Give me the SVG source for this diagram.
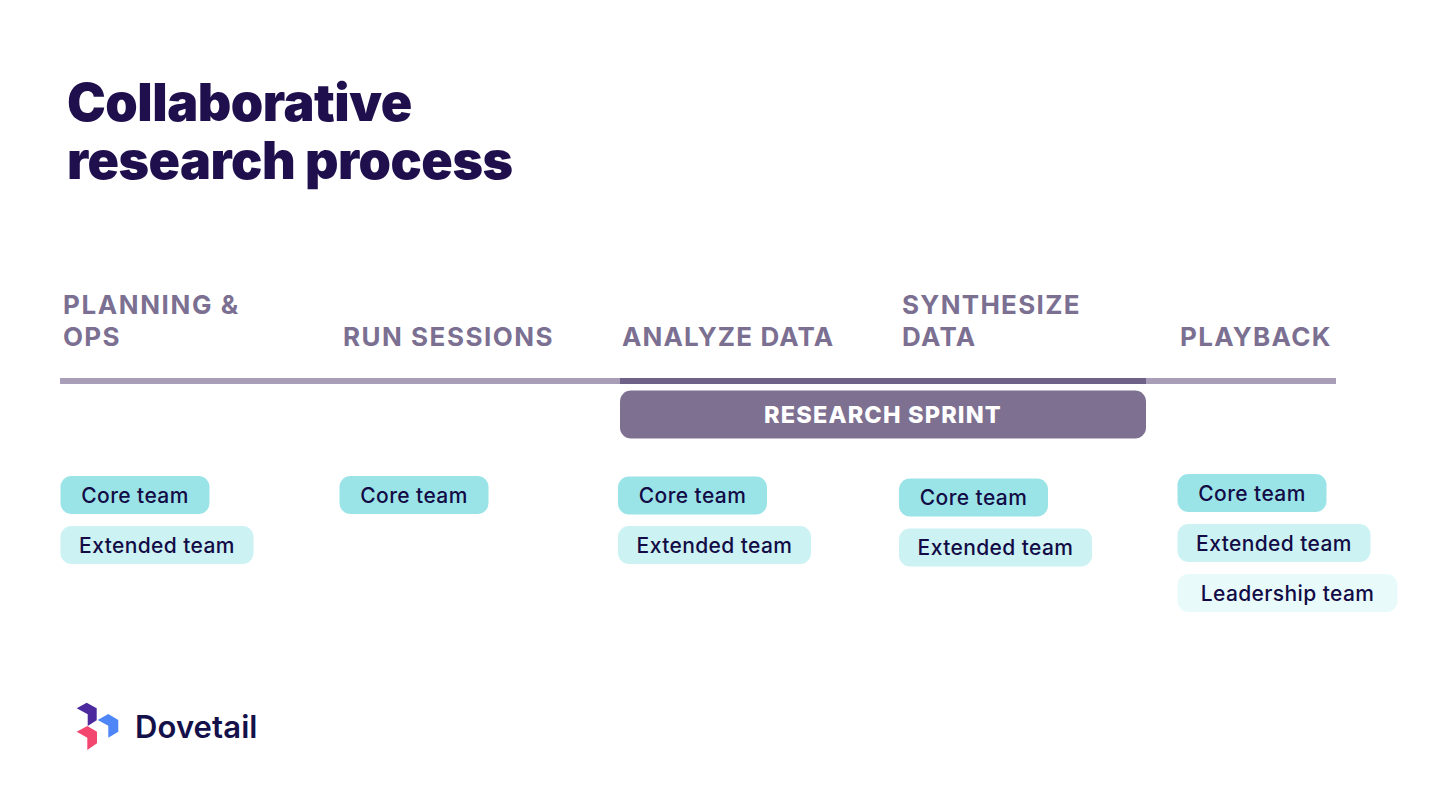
<svg xmlns="http://www.w3.org/2000/svg" width="1440" height="811" viewBox="0 0 1440 811">
<style>
text{font-family:Inter,"Liberation Sans",sans-serif}
.title{font-size:52px;font-weight:900;fill:#1f0f4d;letter-spacing:-.5px}
.head{font-size:26px;font-weight:700;fill:#7b6f92;letter-spacing:1.3px}
.pill{font-size:21px;font-weight:500;fill:#120b45;text-anchor:middle;letter-spacing:.4px}
.core{fill:#9ae4e8}.ext{fill:#ccf2f3}.lead{fill:#e9fafb}
</style>
<rect width="1440" height="811" fill="#fff"/>
<g id="title"><text class="title" x="67" y="121">Collaborative</text><text class="title" x="67" y="179">research process</text></g>
<g id="connectors">
<rect x="60" y="378" width="1276" height="6" fill="#a99eb8"/>
<rect x="620" y="378" width="526" height="6" fill="#6f6288"/>
</g>
<g id="stage-planning"><text class="head" x="63" y="314" style="letter-spacing:1.6px">PLANNING &amp;</text><text class="head" x="63" y="346">OPS</text></g>
<g id="stage-run"><text class="head" x="343" y="346" style="letter-spacing:1.5px">RUN SESSIONS</text></g>
<g id="stage-analyze"><text class="head" x="622" y="346" style="letter-spacing:1.15px">ANALYZE DATA</text></g>
<g id="stage-synthesize"><text class="head" x="902" y="314">SYNTHESIZE</text><text class="head" x="902" y="346">DATA</text></g>
<g id="stage-playback"><text class="head" x="1180" y="346">PLAYBACK</text></g>
<g id="sprint"><rect x="620" y="390.500" width="526" height="48" rx="11" fill="#7d7091"/><text x="883" y="423" font-size="23.5" font-weight="800" fill="#fff" text-anchor="middle" letter-spacing="1.15">RESEARCH SPRINT</text></g>
<g id="p1-core"><rect class="core" x="60.500" y="476" width="149" height="38" rx="11"/><text class="pill" x="135" y="502.500">Core team</text></g>
<g id="p1-ext"><rect class="ext" x="60.500" y="526" width="193" height="38" rx="11"/><text class="pill" x="157" y="552.500">Extended team</text></g>
<g id="p2-core"><rect class="core" x="339.500" y="476" width="149" height="38" rx="11"/><text class="pill" x="414" y="502.500">Core team</text></g>
<g id="p3-core"><rect class="core" x="618" y="476.500" width="149" height="38" rx="11"/><text class="pill" x="692.500" y="503">Core team</text></g>
<g id="p3-ext"><rect class="ext" x="618" y="526" width="193" height="38" rx="11"/><text class="pill" x="714.500" y="553">Extended team</text></g>
<g id="p4-core"><rect class="core" x="899" y="478.500" width="149" height="38" rx="11"/><text class="pill" x="973.500" y="505">Core team</text></g>
<g id="p4-ext"><rect class="ext" x="899" y="528.500" width="193" height="38" rx="11"/><text class="pill" x="995.500" y="555">Extended team</text></g>
<g id="p5-core"><rect class="core" x="1177.500" y="474" width="149" height="38" rx="11"/><text class="pill" x="1252" y="500.500">Core team</text></g>
<g id="p5-ext"><rect class="ext" x="1177.500" y="524" width="193" height="38" rx="11"/><text class="pill" x="1274" y="550.500">Extended team</text></g>
<g id="p5-lead"><rect class="lead" x="1177.500" y="574" width="220" height="38" rx="11"/><text class="pill" x="1287.500" y="600.500">Leadership team</text></g>
<g id="logo">
<polygon points="86.700,702.700 76.700,708.300 87.700,714.300 87.700,726 96.700,720.300 96.700,708.300" fill="#4c2a9e"/>
<polygon points="97.700,720 108.300,714 118.300,720 118.300,731.700 108.300,737.700 108.300,725.700" fill="#4f86f7"/>
<polygon points="76.700,731.700 87.300,726 97,731.700 97,743.300 87.300,750 87.300,737.700" fill="#f4476f"/>
<text x="135" y="738" font-size="31" font-weight="600" fill="#14104a" letter-spacing=".1">Dovetail</text>
</g>
</svg>
